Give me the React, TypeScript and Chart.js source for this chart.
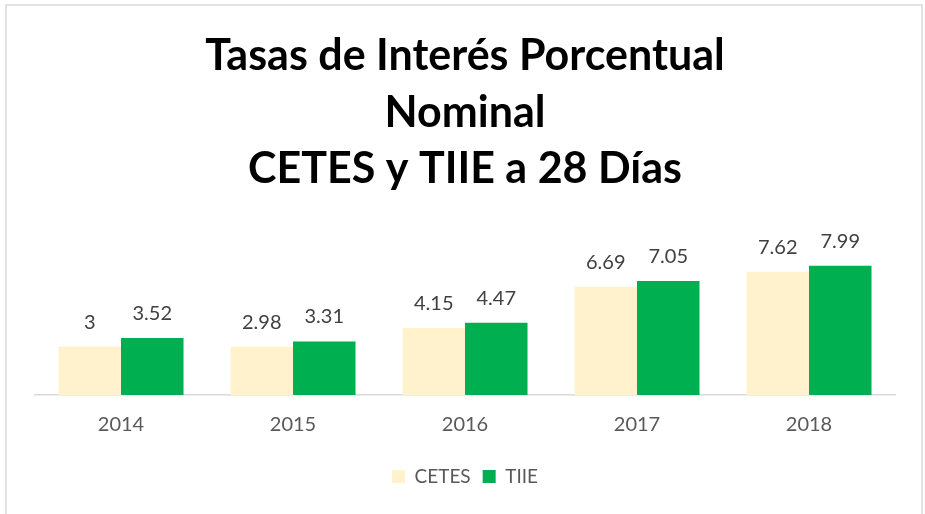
import React, { useEffect, useRef } from "react";
import { Chart, registerables } from "chart.js";

Chart.register(...registerables);

const categories = ["2014", "2015", "2016", "2017", "2018"];
const cetes = [3, 2.98, 4.15, 6.69, 7.62];
const tiie = [3.52, 3.31, 4.47, 7.05, 7.99];
const titleLines = ["Tasas de Interés Porcentual", "Nominal", "CETES y TIIE a 28 Días"];

const FONT = "Lato, 'Open Sans', sans-serif";

const bgPlugin = {
  id: "bgBorder",
  beforeDraw(chart: any) {
    const ctx = chart.ctx;
    ctx.save();
    ctx.fillStyle = "#ffffff";
    ctx.fillRect(0, 0, chart.width, chart.height);
    ctx.strokeStyle = "#D9D9D9";
    ctx.lineWidth = 1.5;
    ctx.strokeRect(6, 5, 916, 530);
    ctx.restore();
  },
};

const labelPlugin = {
  id: "valueLabels",
  afterDatasetsDraw(chart: any) {
    const ctx = chart.ctx;
    ctx.save();
    ctx.font = `20px ${FONT}`;
    ctx.fillStyle = "#404040";
    ctx.textAlign = "center";
    ctx.textBaseline = "alphabetic";
    chart.data.datasets.forEach((ds: any, i: number) => {
      const meta = chart.getDatasetMeta(i);
      meta.data.forEach((bar: any, j: number) => {
        ctx.fillText(String(ds.data[j]), bar.x, bar.y - 18);
      });
    });
    ctx.restore();
  },
};

export default function App() {
  const ref = useRef<HTMLCanvasElement | null>(null);
  useEffect(() => {
    if (!ref.current) return;
    const chart = new Chart(ref.current, {
      type: "bar",
      data: {
        labels: categories,
        datasets: [
          { label: "CETES", data: cetes, backgroundColor: "#FFF2CC", borderWidth: 0 },
          { label: "TIIE", data: tiie, backgroundColor: "#00B050", borderWidth: 0 },
        ],
      },
      options: {
        responsive: false,
        animation: false,
        layout: { padding: { left: 35, right: 30, top: 0, bottom: 18 } },
        datasets: { bar: { categoryPercentage: 0.727, barPercentage: 1 } },
        scales: {
          x: {
            grid: { display: false, drawTicks: false },
            border: { display: true, color: "#D9D9D9", width: 1.5 },
            ticks: { font: { family: FONT, size: 20 }, color: "#595959", padding: 18 },
          },
          y: { display: false, min: 0, max: 9 },
        },
        plugins: {
          title: {
            display: true,
            text: titleLines,
            color: "#000000",
            font: { family: FONT, size: 43, weight: "bold", lineHeight: 1.314 },
            padding: { top: 28, bottom: 52 },
          },
          legend: {
            position: "bottom",
            labels: {
              font: { family: FONT, size: 19 },
              color: "#595959",
              boxWidth: 13,
              boxHeight: 13,
              padding: 12,
            },
          },
          tooltip: { enabled: false },
        },
      },
      plugins: [bgPlugin, labelPlugin],
    });
    return () => chart.destroy();
  }, []);
  return (
    <div style={{ position: "fixed", left: 0, top: 0, width: 925, height: 514 }}>
      <canvas ref={ref} width={925} height={514} />
    </div>
  );
}
